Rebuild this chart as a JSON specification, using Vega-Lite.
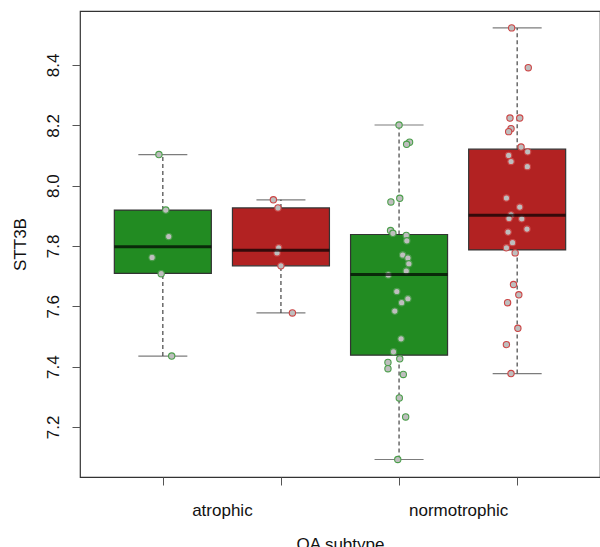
{
  "$schema": "https://vega.github.io/schema/vega-lite/v6.json",
  "width": 520,
  "height": 466,
  "autosize": "none",
  "padding": {"left": 80, "top": 11, "right": 0, "bottom": 70},
  "background": "white",
  "config": {
    "view": {"stroke": "#333333", "strokeWidth": 1.2},
    "font": "Liberation Sans",
    "axis": {"domain": false, "grid": false, "tickColor": "#555555", "tickSize": 8, "labelColor": "#111111", "titleColor": "#111111", "labelFont": "Liberation Sans", "titleFont": "Liberation Sans", "labelFontSize": 17, "titleFontSize": 17, "titleFontWeight": "normal"}
  },
  "datasets": {
    "pts": [
      {"box": 1, "xj": 0.967, "value": 8.103, "set": "1"},
      {"box": 1, "xj": 1.025, "value": 7.919, "set": "1"},
      {"box": 1, "xj": 1.050, "value": 7.831, "set": "1"},
      {"box": 1, "xj": 0.909, "value": 7.762, "set": "1"},
      {"box": 1, "xj": 0.986, "value": 7.708, "set": "1"},
      {"box": 1, "xj": 1.075, "value": 7.435, "set": "1"},
      {"box": 2, "xj": 1.936, "value": 7.953, "set": "2"},
      {"box": 2, "xj": 1.975, "value": 7.926, "set": "2"},
      {"box": 2, "xj": 1.981, "value": 7.794, "set": "2"},
      {"box": 2, "xj": 1.967, "value": 7.777, "set": "2"},
      {"box": 2, "xj": 2.000, "value": 7.734, "set": "2"},
      {"box": 2, "xj": 2.097, "value": 7.578, "set": "2"},
      {"box": 3, "xj": 3.000, "value": 8.201, "set": "1"},
      {"box": 3, "xj": 3.089, "value": 8.144, "set": "1"},
      {"box": 3, "xj": 3.064, "value": 8.137, "set": "1"},
      {"box": 3, "xj": 3.006, "value": 7.958, "set": "1"},
      {"box": 3, "xj": 2.931, "value": 7.946, "set": "1"},
      {"box": 3, "xj": 2.928, "value": 7.851, "set": "1"},
      {"box": 3, "xj": 2.948, "value": 7.842, "set": "1"},
      {"box": 3, "xj": 3.061, "value": 7.835, "set": "1"},
      {"box": 3, "xj": 3.066, "value": 7.817, "set": "1"},
      {"box": 3, "xj": 3.031, "value": 7.770, "set": "1"},
      {"box": 3, "xj": 3.075, "value": 7.760, "set": "1"},
      {"box": 3, "xj": 3.083, "value": 7.741, "set": "1"},
      {"box": 3, "xj": 3.061, "value": 7.717, "set": "1"},
      {"box": 3, "xj": 2.909, "value": 7.704, "set": "1"},
      {"box": 3, "xj": 2.981, "value": 7.649, "set": "1"},
      {"box": 3, "xj": 3.075, "value": 7.625, "set": "1"},
      {"box": 3, "xj": 3.022, "value": 7.612, "set": "1"},
      {"box": 3, "xj": 2.964, "value": 7.584, "set": "1"},
      {"box": 3, "xj": 3.017, "value": 7.492, "set": "1"},
      {"box": 3, "xj": 2.953, "value": 7.449, "set": "1"},
      {"box": 3, "xj": 3.006, "value": 7.426, "set": "1"},
      {"box": 3, "xj": 2.906, "value": 7.414, "set": "1"},
      {"box": 3, "xj": 2.906, "value": 7.393, "set": "1"},
      {"box": 3, "xj": 3.036, "value": 7.374, "set": "1"},
      {"box": 3, "xj": 3.002, "value": 7.296, "set": "1"},
      {"box": 3, "xj": 3.056, "value": 7.233, "set": "1"},
      {"box": 3, "xj": 2.989, "value": 7.092, "set": "1"},
      {"box": 4, "xj": 3.953, "value": 8.523, "set": "2"},
      {"box": 4, "xj": 4.094, "value": 8.391, "set": "2"},
      {"box": 4, "xj": 3.939, "value": 8.224, "set": "2"},
      {"box": 4, "xj": 4.022, "value": 8.224, "set": "2"},
      {"box": 4, "xj": 3.948, "value": 8.189, "set": "2"},
      {"box": 4, "xj": 3.928, "value": 8.179, "set": "2"},
      {"box": 4, "xj": 4.033, "value": 8.128, "set": "2"},
      {"box": 4, "xj": 4.089, "value": 8.112, "set": "2"},
      {"box": 4, "xj": 3.928, "value": 8.100, "set": "2"},
      {"box": 4, "xj": 3.948, "value": 8.080, "set": "2"},
      {"box": 4, "xj": 4.086, "value": 8.063, "set": "2"},
      {"box": 4, "xj": 3.909, "value": 7.959, "set": "2"},
      {"box": 4, "xj": 4.022, "value": 7.929, "set": "2"},
      {"box": 4, "xj": 3.948, "value": 7.903, "set": "2"},
      {"box": 4, "xj": 3.931, "value": 7.891, "set": "2"},
      {"box": 4, "xj": 4.039, "value": 7.890, "set": "2"},
      {"box": 4, "xj": 4.083, "value": 7.856, "set": "2"},
      {"box": 4, "xj": 3.923, "value": 7.846, "set": "2"},
      {"box": 4, "xj": 3.961, "value": 7.811, "set": "2"},
      {"box": 4, "xj": 3.909, "value": 7.794, "set": "2"},
      {"box": 4, "xj": 3.983, "value": 7.777, "set": "2"},
      {"box": 4, "xj": 3.969, "value": 7.672, "set": "2"},
      {"box": 4, "xj": 4.014, "value": 7.638, "set": "2"},
      {"box": 4, "xj": 3.919, "value": 7.612, "set": "2"},
      {"box": 4, "xj": 4.006, "value": 7.527, "set": "2"},
      {"box": 4, "xj": 3.909, "value": 7.473, "set": "2"},
      {"box": 4, "xj": 3.948, "value": 7.377, "set": "2"}
    ],
    "boxes": [
      {"box": 1, "set": "1", "lower": 7.435, "q1": 7.709, "median": 7.797, "q3": 7.919, "upper": 8.103},
      {"box": 2, "set": "2", "lower": 7.578, "q1": 7.734, "median": 7.786, "q3": 7.926, "upper": 7.953},
      {"box": 3, "set": "1", "lower": 7.092, "q1": 7.438, "median": 7.705, "q3": 7.838, "upper": 8.201},
      {"box": 4, "set": "2", "lower": 7.377, "q1": 7.787, "median": 7.902, "q3": 8.121, "upper": 8.523}
    ]
  },
  "layer": [
    {
      "data": {"name": "boxes"},
      "mark": {"type": "rule", "strokeDash": [4, 3], "color": "#444444", "strokeWidth": 1.2},
      "encoding": {
        "x": {"field": "box", "type": "quantitative", "scale": {"domain": [0.341, 4.659], "nice": false, "zero": false},
          "axis": {"values": [1, 1.5, 2, 3, 3.5, 4], "title": "OA subtype", "titlePadding": 18, "labelPadding": 17, "labelBaseline": "top",
            "labelExpr": "datum.value == 1.5 ? 'atrophic' : (datum.value == 3.5 ? 'normotrophic' : '')",
            "tickOpacity": {"condition": {"test": "datum.value == 1.5 || datum.value == 3.5", "value": 0}, "value": 1}}},
        "y": {"field": "lower", "type": "quantitative", "scale": {"domain": [7.034, 8.579], "nice": false, "zero": false},
          "axis": {"values": [7.2, 7.4, 7.6, 7.8, 8.0, 8.2, 8.4], "format": ".1f", "title": "STT3B", "labelAngle": -90, "labelAlign": "center", "labelBaseline": "bottom", "labelPadding": 10, "titlePadding": 15}},
        "y2": {"field": "q1"}
      }
    },
    {
      "data": {"name": "boxes"},
      "mark": {"type": "rule", "strokeDash": [4, 3], "color": "#444444", "strokeWidth": 1.2},
      "encoding": {
        "x": {"field": "box", "type": "quantitative"},
        "y": {"field": "q3", "type": "quantitative"},
        "y2": {"field": "upper"}
      }
    },
    {
      "data": {"name": "boxes"},
      "mark": {"type": "tick", "orient": "horizontal", "size": 49, "thickness": 1.2, "color": "#444444"},
      "encoding": {
        "x": {"field": "box", "type": "quantitative"},
        "y": {"field": "upper", "type": "quantitative"}
      }
    },
    {
      "data": {"name": "boxes"},
      "mark": {"type": "tick", "orient": "horizontal", "size": 49, "thickness": 1.2, "color": "#444444"},
      "encoding": {
        "x": {"field": "box", "type": "quantitative"},
        "y": {"field": "lower", "type": "quantitative"}
      }
    },
    {
      "data": {"name": "boxes"},
      "mark": {"type": "bar", "orient": "vertical", "size": 97, "stroke": "#333333", "strokeWidth": 1.2},
      "encoding": {
        "x": {"field": "box", "type": "quantitative"},
        "y": {"field": "q1", "type": "quantitative"},
        "y2": {"field": "q3"},
        "fill": {"field": "set", "type": "nominal", "scale": {"domain": ["1", "2"], "range": ["#228B22", "#B22222"]}, "legend": null}
      }
    },
    {
      "data": {"name": "pts"},
      "mark": {"type": "point", "shape": "circle", "filled": false, "fill": "#bebebe", "fillOpacity": 1, "size": 40, "strokeWidth": 1.1, "opacity": 1},
      "encoding": {
        "x": {"field": "xj", "type": "quantitative"},
        "y": {"field": "value", "type": "quantitative"},
        "stroke": {"field": "set", "type": "nominal", "scale": {"domain": ["1", "2"], "range": ["#4a9e4a", "#cc4444"]}, "legend": null}
      }
    },
    {
      "data": {"name": "boxes"},
      "mark": {"type": "tick", "orient": "horizontal", "size": 97, "thickness": 3, "color": "#000000"},
      "encoding": {
        "x": {"field": "box", "type": "quantitative"},
        "y": {"field": "median", "type": "quantitative"}
      }
    }
  ]
}
